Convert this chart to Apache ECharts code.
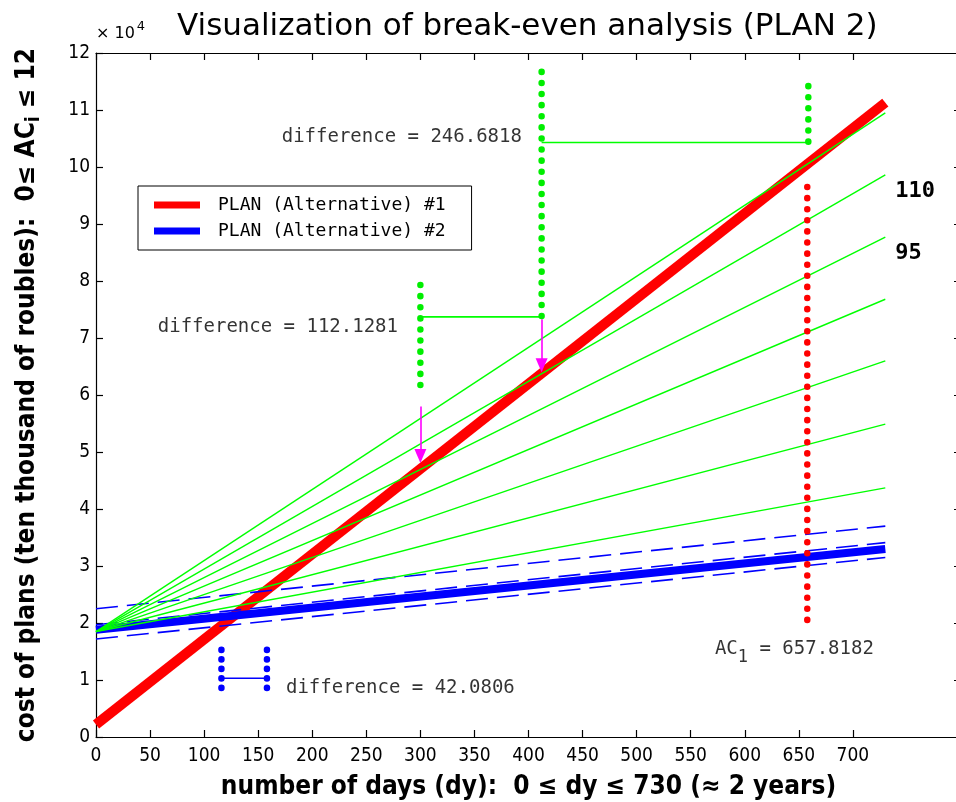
<!DOCTYPE html>
<html><head><meta charset="utf-8">
<script src="https://cdn.jsdelivr.net/npm/echarts@6/dist/echarts.min.js"></script>
<style>html,body{margin:0;padding:0;background:#fff}#c{width:956px;height:802px}</style>
</head><body><div id="c"></div>
<script>
// ---- data (costs in roubles) ----
const days = [0, 730];
const plan1Cost = [2200, 111300];          // PLAN #1 (red)
const plan2Cost = [18800, 33000];          // PLAN #2 (blue, thick)
const plan2BandStart = [22500, 19700, 17200]; // dashed blue lines
const plan2BandEnd = [37000, 34100, 31500];
const fanStart = [18500, 18500, 18500, 18500, 18500, 18500, 18500];
const fanEnd = [109500, 98600, 87700, 76800, 66000, 54900, 43700];
const fanLabels = ['', '110', '95', '', '', '', ''];
const xTickLabels = [0, 50, 100, 150, 200, 250, 300, 350, 400, 450, 500, 550, 600, 650, 700];
const yTickLabels = [0, 1, 2, 3, 4, 5, 6, 7, 8, 9, 10, 11, 12];

// annotation guides [x, yFrom, yTo]
const greenGuides = [[300, 79300, 60000], [412.13, 116700, 73800], [658.8, 114200, 103200]];
const greenSpans = [[300, 412.13, 73700], [412.13, 658.8, 104300]]; // [xFrom, xTo, y]
const magentaArrows = [[300, 58000, 49300], [412.13, 73300, 65200]];
const redGuide = [[657.8182, 96500, 20000]];
const blueGuides = [[116.0, 15300, 7100], [158.1, 15300, 7100]];
const blueSpans = [[116.0, 158.1, 10300]];
const notes = [
  [393.9, 105300, 'difference = 246.6818', 'left'],
  [279.3, 72000, 'difference = 112.1281', 'left'],
  [175.7, 8600, 'difference = 42.0806', 'right'],
  [572.4, 15400, 'AC1', 'right']
];

const monoFont = "'DejaVu Sans Mono', monospace";
const tickFont = "'Liberation Sans Narrow', 'DejaVu Sans Condensed', sans-serif";
const boldFont = "'DejaVu Sans Condensed', 'DejaVu Sans', sans-serif";

const series = [];
series.push({
  name: 'PLAN (Alternative) #1', type: 'line', symbol: 'none', silent: true,
  data: days.map((d, i) => [d, plan1Cost[i]]),
  lineStyle: { color: '#ff0000', width: 10 }, itemStyle: { color: '#ff0000' }, z: 2
});
series.push({
  name: 'PLAN (Alternative) #2', type: 'line', symbol: 'none', silent: true,
  data: days.map((d, i) => [d, plan2Cost[i]]),
  lineStyle: { color: '#0000ff', width: 8 }, itemStyle: { color: '#0000ff' }, z: 2
});
plan2BandStart.forEach((s, k) => {
  series.push({
    type: 'line', symbol: 'none', silent: true,
    data: [[days[0], s], [days[1], plan2BandEnd[k]]],
    lineStyle: { color: '#0000ff', width: 1.6, type: [22, 9] }, z: 3
  });
});
fanStart.forEach((s, k) => {
  series.push({
    type: 'line', symbol: 'none', silent: true,
    data: [[days[0], s], [days[1], fanEnd[k]]],
    lineStyle: { color: '#00ff00', width: 1.4 }, z: 4,
    endLabel: {
      show: fanLabels[k] !== '', formatter: fanLabels[k], offset: [2, 16],
      color: '#000', fontFamily: monoFont, fontWeight: 'bold', fontSize: 22
    }
  });
});
function dotted(list, color, gap, width) {
  list.forEach(g => {
    series.push({
      type: 'line', symbol: 'none', silent: true,
      data: [[g[0], g[1]], [g[0], g[2]]],
      lineStyle: { color: color, width: width, type: [0.1, gap], cap: 'round' }, z: 6
    });
  });
}
function spans(list, color) {
  list.forEach(s => {
    series.push({
      type: 'line', symbol: 'none', silent: true,
      data: [[s[0], s[2]], [s[1], s[2]]],
      lineStyle: { color: color, width: 1.6 }, z: 5
    });
  });
}
dotted(greenGuides, '#00ee00', 11, 6.5);
spans(greenSpans, '#00ff00');
dotted(redGuide, '#ff0000', 11, 6.5);
dotted(blueGuides, '#0000ff', 9.4, 6.5);
spans(blueSpans, '#0000ff');
series.push({
  type: 'line', symbol: 'none', silent: true, data: [], z: 6,
  markLine: {
    silent: true, symbol: ['none', 'triangle'], symbolSize: [12, 14],
    label: { show: false }, animation: false,
    lineStyle: { color: '#ff00ff', width: 1.6, type: 'solid' },
    data: magentaArrows.map(a => [{ coord: [a[0], a[1]] }, { coord: [a[0], a[2]] }])
  }
});
series.push({
  type: 'scatter', symbolSize: 0, silent: true, z: 7,
  data: notes.map(n => ({
    value: [n[0], n[1]],
    label: {
      show: true, position: n[3], distance: 0,
      formatter: n[2] === 'AC1' ? '{t|AC}{s|1}{t| = 657.8182}' : n[2]
    }
  })),
  label: {
    color: '#000', fontFamily: monoFont, fontSize: 19,
    rich: {
      t: { fontFamily: monoFont, fontSize: 19, color: '#000' },
      s: { fontFamily: monoFont, fontSize: 17, color: '#000', padding: [16, 0, 0, 0] }
    }
  }
});

const axisLine = { show: true, onZero: false, lineStyle: { color: '#000', width: 1.2 } };
const tickStyle = { color: '#000', width: 1.2 };
const option = {
  animation: false,
  backgroundColor: '#fff',
  title: {
    text: 'Visualization of break-even analysis (PLAN 2)', left: 172, top: 6,
    textStyle: { fontFamily: "'DejaVu Sans', sans-serif", fontSize: 31, fontWeight: 'normal', color: '#000' }
  },
  graphic: [{
    type: 'text', left: 96, top: 20,
    style: {
      text: '× 10{s|4}', fill: '#000', font: "16px 'DejaVu Sans', sans-serif",
      rich: { s: { fontSize: 13, fontFamily: "'DejaVu Sans', sans-serif", padding: [0, 0, 14, 2], fill: '#000' } }
    }
  }],
  legend: {
    orient: 'vertical', left: 138, top: 186,
    data: [{ name: 'PLAN (Alternative) #1', icon: 'rect' }, { name: 'PLAN (Alternative) #2', icon: 'rect' }],
    itemWidth: 46, itemHeight: 7, itemGap: 4,
    padding: [8, 26, 8, 16],
    borderColor: '#000', borderWidth: 1, backgroundColor: '#fff',
    textStyle: { fontFamily: monoFont, fontSize: 18, color: '#000', padding: [0, 0, 0, 13], lineHeight: 22 },
    selectedMode: false
  },
  grid: { left: 96, right: -5, top: 53, bottom: 65, outerBoundsMode: 'none' },
  xAxis: [{
    type: 'value', min: 0, max: 800, position: 'bottom',
    axisLine: axisLine,
    axisTick: { inside: true, length: 7, customValues: xTickLabels, lineStyle: tickStyle },
    axisLabel: { customValues: xTickLabels, margin: 10, color: '#000', fontFamily: tickFont, fontSize: 19 },
    splitLine: { show: false },
    name: 'number of days (dy):  0 ≤ dy ≤ 730 (≈ 2 years)', nameLocation: 'middle', nameGap: 37,
    nameTextStyle: { fontFamily: boldFont, fontWeight: 'bold', fontSize: 26, color: '#000' }
  }, {
    type: 'value', min: 0, max: 800, position: 'top',
    axisLine: axisLine,
    axisTick: { inside: true, length: 7, customValues: xTickLabels, lineStyle: tickStyle },
    axisLabel: { show: false }, splitLine: { show: false }
  }],
  yAxis: [{
    type: 'value', min: 0, max: 120000, interval: 10000, position: 'left',
    axisLine: axisLine,
    axisTick: { inside: true, length: 7, lineStyle: tickStyle },
    axisLabel: { margin: 6, color: '#000', fontFamily: tickFont, fontSize: 19,
      formatter: v => String(yTickLabels[Math.round(v / 10000)]) },
    splitLine: { show: false },
    name: '{a|cost of plans (ten thousand of roubles):  0≤ AC}{s|i}{a| ≤ 12}',
    nameLocation: 'middle', nameGap: 52,
    nameTextStyle: {
      fontFamily: boldFont, fontWeight: 'bold', fontSize: 26, color: '#000',
      rich: {
        a: { fontFamily: boldFont, fontWeight: 'bold', fontSize: 26, color: '#000' },
        s: { fontFamily: boldFont, fontWeight: 'bold', fontSize: 19, color: '#000', padding: [14, 0, 0, 0] }
      }
    }
  }, {
    type: 'value', min: 0, max: 120000, interval: 10000, position: 'right',
    axisLine: axisLine,
    axisTick: { inside: true, length: 7, lineStyle: tickStyle },
    axisLabel: { show: false }, splitLine: { show: false }
  }],
  series: series
};
const chart = echarts.init(document.getElementById('c'), null, { renderer: 'canvas' });
chart.setOption(option);
</script></body></html>
